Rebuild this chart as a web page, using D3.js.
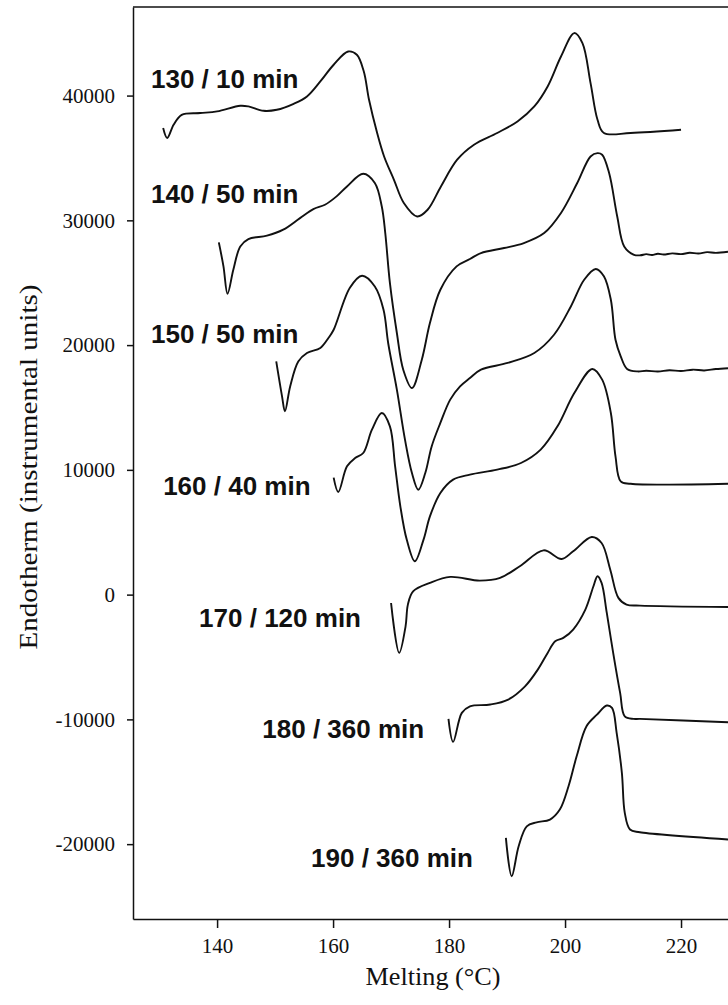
<!DOCTYPE html>
<html>
<head>
<meta charset="utf-8">
<script src="https://cdn.jsdelivr.net/npm/d3@7"></script>
<style>
  body { margin: 0; background: #fff; }
</style>
</head>
<body>
<div id="chart"></div>
<script>
  var width = 728, height = 1005;

  // DSC melting traces, [temperature C, endotherm units]
  var run130 = [[130.7,37400],[131.4,36600],[132.5,37660],[133.9,38460],[137.1,38600],[140.0,38730],[144.0,39180],[145.4,39130],[148.0,38780],[150.3,38860],[153.2,39340],[155.5,39930],[157.8,41130],[160.1,42470],[162.6,43530],[164.1,43270],[165.3,41930],[166.2,39660],[167.6,37000],[168.8,35120],[170.5,33250],[172.2,31390],[174.5,30310],[176.3,30850],[178.6,32720],[181.4,34860],[184.3,36060],[188.3,37000],[191.8,37930],[194.7,39130],[197.0,40730],[199.3,43130],[201.6,45010],[203.0,44210],[204.4,41000],[205.6,38060],[206.7,37000],[211.3,37000],[220.0,37260]];

  var run140 = [[140.3,28230],[141.1,26310],[141.8,24120],[142.8,26040],[144.0,27910],[145.4,28500],[148.6,28770],[151.4,29250],[154.3,30180],[156.6,30900],[158.6,31250],[160.6,31920],[162.4,32720],[165.2,33730],[167.2,32990],[168.4,31110],[169.0,28980],[169.8,24980],[171.0,20970],[172.1,18030],[173.6,16560],[175.3,18830],[176.7,21770],[178.5,24440],[181.3,26310],[183.6,26900],[185.5,27380],[189.5,27780],[192.9,28180],[196.4,28980],[199.3,30590],[202.1,32990],[204.4,35120],[205.6,35390],[206.4,35260],[207.6,33790],[209.0,30310],[210.2,27910],[211.9,27240],[213.0,27200],[214.0,27290],[215.0,27220],[216.0,27320],[217.0,27260],[218.5,27350],[220.0,27290],[221.5,27400],[223.0,27340],[224.5,27450],[226.0,27390],[228.1,27480]];

  var run150 = [[150.2,18690],[151.2,15890],[151.7,14690],[152.6,16690],[154.0,18690],[155.5,19370],[157.8,19770],[159.2,20570],[160.1,21230],[162.9,24600],[165.0,25560],[167.2,24700],[168.7,22840],[169.5,20170],[171.0,16430],[172.4,12420],[173.6,9750],[174.7,8410],[175.9,9750],[177.0,11880],[178.5,13760],[180.2,15630],[181.9,16690],[183.6,17360],[185.5,18030],[190.1,18570],[194.7,19370],[198.1,20830],[201.0,23100],[203.3,25240],[205.3,26100],[206.7,25510],[207.9,23640],[208.7,20430],[209.6,19100],[210.7,18090],[212.5,17890],[214.0,17950],[216.0,17880],[218.0,17980],[220.0,17920],[222.0,18030],[224.0,17970],[226.0,18080],[228.1,18150]];

  var run160 = [[160.1,9380],[160.9,8230],[162.4,10280],[163.8,10950],[165.2,11350],[166.7,13220],[168.4,14560],[169.8,13490],[170.7,10280],[171.6,7080],[172.7,4410],[174.1,2670],[175.6,4410],[176.7,6270],[178.5,8150],[180.7,9220],[183.6,9620],[188.3,10020],[192.4,10550],[195.8,11620],[198.7,13490],[201.6,16160],[204.7,18090],[206.4,17230],[207.9,14560],[208.7,11080],[209.6,9080],[211.3,8890],[228.1,8890]];

  var run170 = [[170.0,-670],[171.4,-4670],[172.5,-2540],[172.9,-800],[173.8,260],[176.7,940],[180.2,1420],[185.3,1120],[188.8,1340],[192.2,2270],[196.3,3550],[199.4,2860],[201.4,3470],[204.6,4620],[206.3,4140],[207.8,2000],[209.2,-260],[210.6,-800],[212.9,-880],[228.1,-990]];

  var run180 = [[179.9,-9960],[180.7,-11800],[182.2,-9480],[183.6,-8950],[187.1,-8810],[190.2,-8410],[193.1,-7350],[195.3,-6010],[197.0,-4670],[198.3,-3740],[199.7,-3470],[201.4,-2800],[203.5,-1200],[204.9,670],[205.6,1470],[206.3,940],[207.2,-1470],[208.3,-4670],[209.5,-7880],[210.3,-9750],[211.8,-9960],[212.9,-9960],[228.1,-10230]];

  var run190 = [[189.8,-19500],[190.8,-22570],[192.0,-20170],[193.4,-18570],[195.1,-18250],[197.4,-18030],[199.1,-17230],[200.6,-15360],[202.0,-12960],[203.7,-10550],[205.5,-9620],[207.2,-8890],[208.1,-9080],[208.9,-11080],[209.8,-14290],[210.3,-17490],[211.2,-18830],[212.9,-19050],[228.1,-19630]];

  var runs = [run130, run140, run150, run160, run170, run180, run190];
  var labels = ["130 / 10 min", "140 / 50 min", "150 / 50 min", "160 / 40 min", "170 / 120 min", "180 / 360 min", "190 / 360 min"];
  // where each label sits, in data units (temperature, endotherm)
  var labelT = [128.6, 128.6, 128.6, 130.7, 136.9, 147.8, 156.2];
  var labelV = [40620, 31410, 20190, 8010, -2560, -11460, -21800];

  var xTicks = [140, 160, 180, 200, 220];
  var yTicks = [-20000, -10000, 0, 10000, 20000, 30000, 40000];

  var svg = d3.select("#chart").append("svg")
    .attr("width", width)
    .attr("height", height);

  var x = d3.scaleLinear().domain([125.5, 228.1]).range([133, 728]);
  var y = d3.scaleLinear().domain([-26000, 47100]).range([919, 7]);

  svg.append("clipPath").attr("id", "clip")
    .append("rect")
    .attr("x", 133).attr("y", 7)
    .attr("width", width - 133).attr("height", 912);

  var line = d3.line()
    .x(function(d) { return x(d[0]); })
    .y(function(d) { return y(d[1]); })
    .curve(d3.curveCatmullRom.alpha(0.5));

  svg.append("g").attr("clip-path", "url(#clip)")
    .selectAll("path").data(runs).enter().append("path")
    .attr("d", line)
    .style("fill", "none")
    .style("stroke", "#111")
    .style("stroke-width", 1.9)
    .style("stroke-linejoin", "round");

  // plain hyphen minus, like the original figure
  var fmt = function(d) { return String(d); };

  svg.append("g")
    .attr("transform", "translate(133,0)")
    .call(d3.axisLeft(y).tickValues(yTicks).tickSize(6).tickSizeOuter(0).tickPadding(12).tickFormat(fmt));

  svg.append("g")
    .attr("transform", "translate(0,919)")
    .call(d3.axisBottom(x).tickValues(xTicks).tickSize(9).tickSizeOuter(0).tickPadding(10).tickFormat(fmt));

  svg.selectAll(".domain, .tick line")
    .style("stroke", "#111")
    .style("stroke-width", 1.5);

  svg.selectAll(".tick text")
    .style("font-family", "'Liberation Serif', 'Times New Roman', serif")
    .style("font-size", "21px")
    .style("fill", "#111");

  // top frame line
  svg.append("line")
    .attr("x1", 133).attr("x2", width)
    .attr("y1", 7).attr("y2", 7)
    .style("stroke", "#111")
    .style("stroke-width", 1.5);

  svg.selectAll(".runlabel").data(labels).enter().append("text")
    .attr("class", "runlabel")
    .attr("x", function(d, i) { return x(labelT[i]); })
    .attr("y", function(d, i) { return y(labelV[i]); })
    .style("font-family", "'Liberation Sans', Arial, sans-serif")
    .style("font-weight", "bold")
    .style("font-size", "26px")
    .style("fill", "#111")
    .text(function(d) { return d; });

  svg.append("text")
    .attr("transform", "translate(37,467) rotate(-90)")
    .attr("text-anchor", "middle")
    .attr("textLength", 365)
    .attr("lengthAdjust", "spacingAndGlyphs")
    .style("font-family", "'Liberation Serif', 'Times New Roman', serif")
    .style("font-size", "25px")
    .style("fill", "#111")
    .text("Endotherm (instrumental units)");

  svg.append("text")
    .attr("x", 433)
    .attr("y", 985)
    .attr("text-anchor", "middle")
    .attr("textLength", 135)
    .attr("lengthAdjust", "spacingAndGlyphs")
    .style("font-family", "'Liberation Serif', 'Times New Roman', serif")
    .style("font-size", "25px")
    .style("fill", "#111")
    .text("Melting (°C)");
</script>
</body>
</html>
